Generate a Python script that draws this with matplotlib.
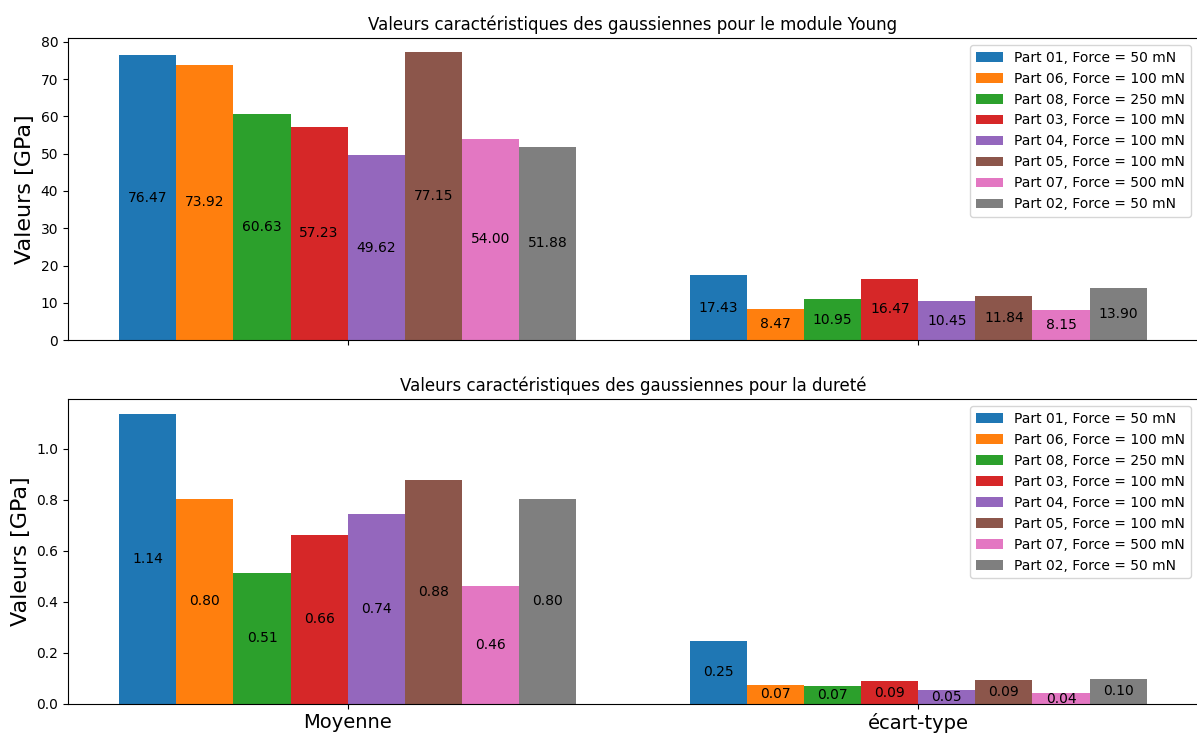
import numpy as np
import matplotlib
matplotlib.use("Agg")
from matplotlib import pyplot as plt

# categories on the x axis
stats = ["Moyenne", "écart-type"]

# legend entries, one bar per part in each group
parts = ["Part 01, Force = 50 mN", "Part 06, Force = 100 mN", "Part 08, Force = 250 mN",
         "Part 03, Force = 100 mN", "Part 04, Force = 100 mN", "Part 05, Force = 100 mN",
         "Part 07, Force = 500 mN", "Part 02, Force = 50 mN"]

# module Young [GPa]: mean and std of the fitted gaussians
young_mean = [76.47, 73.92, 60.63, 57.23, 49.62, 77.15, 54.00, 51.88]
young_std = [17.43, 8.47, 10.95, 16.47, 10.45, 11.84, 8.15, 13.90]

# durete [GPa]
hard_mean = [1.136, 0.804, 0.513, 0.661, 0.744, 0.876, 0.462, 0.804]
hard_std = [0.247, 0.072, 0.068, 0.087, 0.052, 0.091, 0.040, 0.098]

fig = plt.figure(figsize=(11.97, 7.33), dpi=100)
ax1 = fig.add_axes([0.0568, 0.536, 0.944, 0.412])
ax2 = fig.add_axes([0.0568, 0.040, 0.944, 0.415])

x = np.arange(len(stats))
width = 0.1


def draw(ax, means, stds, title):
    for i, name in enumerate(parts):
        offset = (i - (len(parts) - 1) / 2) * width
        bars = ax.bar(x + offset, [means[i], stds[i]], width, label=name)
        ax.bar_label(bars, fmt="%.2f", label_type="center", fontsize=10)
    ax.set_title(title, fontsize=12)
    ax.set_ylabel("Valeurs [GPa]", fontsize=16)
    ax.set_xticks(x)
    ax.legend(loc="upper right", fontsize=10)


draw(ax1, young_mean, young_std, "Valeurs caractéristiques des gaussiennes pour le module Young")
draw(ax2, hard_mean, hard_std, "Valeurs caractéristiques des gaussiennes pour la dureté")
ax1.set_xticklabels([])
ax2.set_xticklabels(stats, fontsize=14)

plt.savefig("out.png", dpi=100)
